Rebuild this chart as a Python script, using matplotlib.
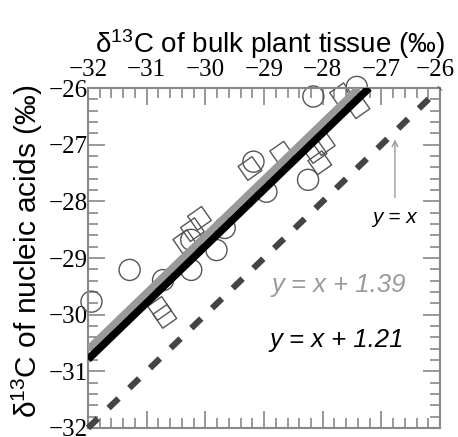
import matplotlib
matplotlib.use("Agg")
import matplotlib.pyplot as plt
import numpy as np
from matplotlib.ticker import MultipleLocator
from matplotlib.transforms import ScaledTranslation

plt.rcParams['mathtext.fontset'] = 'custom'
plt.rcParams['mathtext.rm'] = 'Liberation Sans'
plt.rcParams['mathtext.it'] = 'Liberation Sans:italic'

# Data
circle_x = [-31.94, -31.29, -30.72, -30.24, -30.24, -29.81, -29.67, -29.18, -28.96, -28.25, -28.16, -27.42]
circle_y = [-29.77, -29.21, -29.39, -29.21, -28.68, -28.86, -28.47, -27.30, -27.83, -27.62, -26.15, -25.98]
square_x = [-30.10, -30.22, -30.35, -30.78, -30.69, -29.24, -28.70, -28.13, -28.05, -27.99, -27.68, -27.40]
square_y = [-28.30, -28.50, -28.71, -29.89, -30.03, -27.42, -27.15, -27.12, -27.32, -26.98, -26.12, -26.33]
offset_gray = 1.39
offset_black = 1.21
xlim = (-32, -26)
ylim = (-32, -26)
ticks = [-32, -31, -30, -29, -28, -27, -26]

fig = plt.figure(figsize=(4.58, 4.37), dpi=100)
ax = fig.add_axes([0.192, 0.0206, 0.769, 0.778])
ax.set_xlim(*xlim)
ax.set_ylim(*ylim)

# markers
ax.scatter(circle_x, circle_y, s=230, marker='o', facecolors='none',
           edgecolors='#555555', linewidths=1.0, zorder=2, clip_on=False)
ax.scatter(square_x, square_y, s=300, marker=(4, 0, -10), facecolors='none',
           edgecolors='#555555', linewidths=1.0, zorder=2, clip_on=False)

# y = x dashed
xx = np.array([-32, -26])
ax.plot(xx, xx, color='#444444', lw=4.5, dashes=(2.2, 2.4), dash_capstyle='butt',
        zorder=3, clip_on=False)
# regression lines
xg = np.array([-32, -26 - offset_gray])
ax.plot(xg, xg + offset_gray, color='#999999', lw=5, solid_capstyle='butt', zorder=4)
xb = np.array([-32, -26 - offset_black])
ax.plot(xb, xb + offset_black, color='black', lw=5.5, solid_capstyle='butt', zorder=5)

# annotations
ax.text(-28.87, -29.47, 'y = x + 1.39', color='#999999', fontsize=18.5, style='italic',
        family='Liberation Sans', ha='left', va='center')
ax.text(-28.90, -30.44, 'y = x + 1.21', color='black', fontsize=18.5, style='italic',
        family='Liberation Sans', ha='left', va='center')
ax.text(-26.78, -28.28, 'y = x', color='black', fontsize=15, style='italic',
        family='Liberation Sans', ha='center', va='center')
ax.annotate('', xy=(-26.77, -26.86), xytext=(-26.77, -27.98),
            arrowprops=dict(arrowstyle='->', color='#999999', lw=1.0))

# axes styling
for s in ax.spines.values():
    s.set_color('#888888')
    s.set_linewidth(1.5)
ax.xaxis.set_major_locator(MultipleLocator(1))
ax.xaxis.set_minor_locator(MultipleLocator(0.2))
ax.yaxis.set_major_locator(MultipleLocator(1))
ax.yaxis.set_minor_locator(MultipleLocator(0.2))
ax.tick_params(which='both', direction='in', top=True, bottom=True, left=True, right=True,
               labeltop=True, labelbottom=False, labelleft=True, labelright=False,
               color='#888888', width=1.2)
ax.tick_params(which='major', length=12)
ax.tick_params(which='minor', length=7)
ax.tick_params(axis='x', which='major', pad=5)
ax.tick_params(axis='y', which='major', pad=0)
ax.set_xticks(ticks)
ax.set_yticks(ticks)
ax.set_xticklabels([f'\u2212{abs(t)}' for t in ticks], family='Liberation Serif', fontsize=18)
ax.set_yticklabels([f'\u2212{abs(t)}' for t in ticks], family='Liberation Serif', fontsize=18)

# nudge the last top tick label left so it stays inside the figure
last = ax.xaxis.get_major_ticks()[-1].label2
last.set_transform(last.get_transform() + ScaledTranslation(-5 / 100, 0, fig.dpi_scale_trans))

ax.xaxis.set_label_position('top')
ax.set_xlabel('δ$^{13}$C of bulk plant tissue (‰)', family='Liberation Sans', fontsize=20)
ax.xaxis.set_label_coords(0.516, 1.104)
ax.set_ylabel('δ$^{13}$C of nucleic acids (‰)', family='Liberation Sans', fontsize=21.5)
ax.yaxis.set_label_coords(-0.122, 0.52)

fig.savefig('out.png', dpi=100)
